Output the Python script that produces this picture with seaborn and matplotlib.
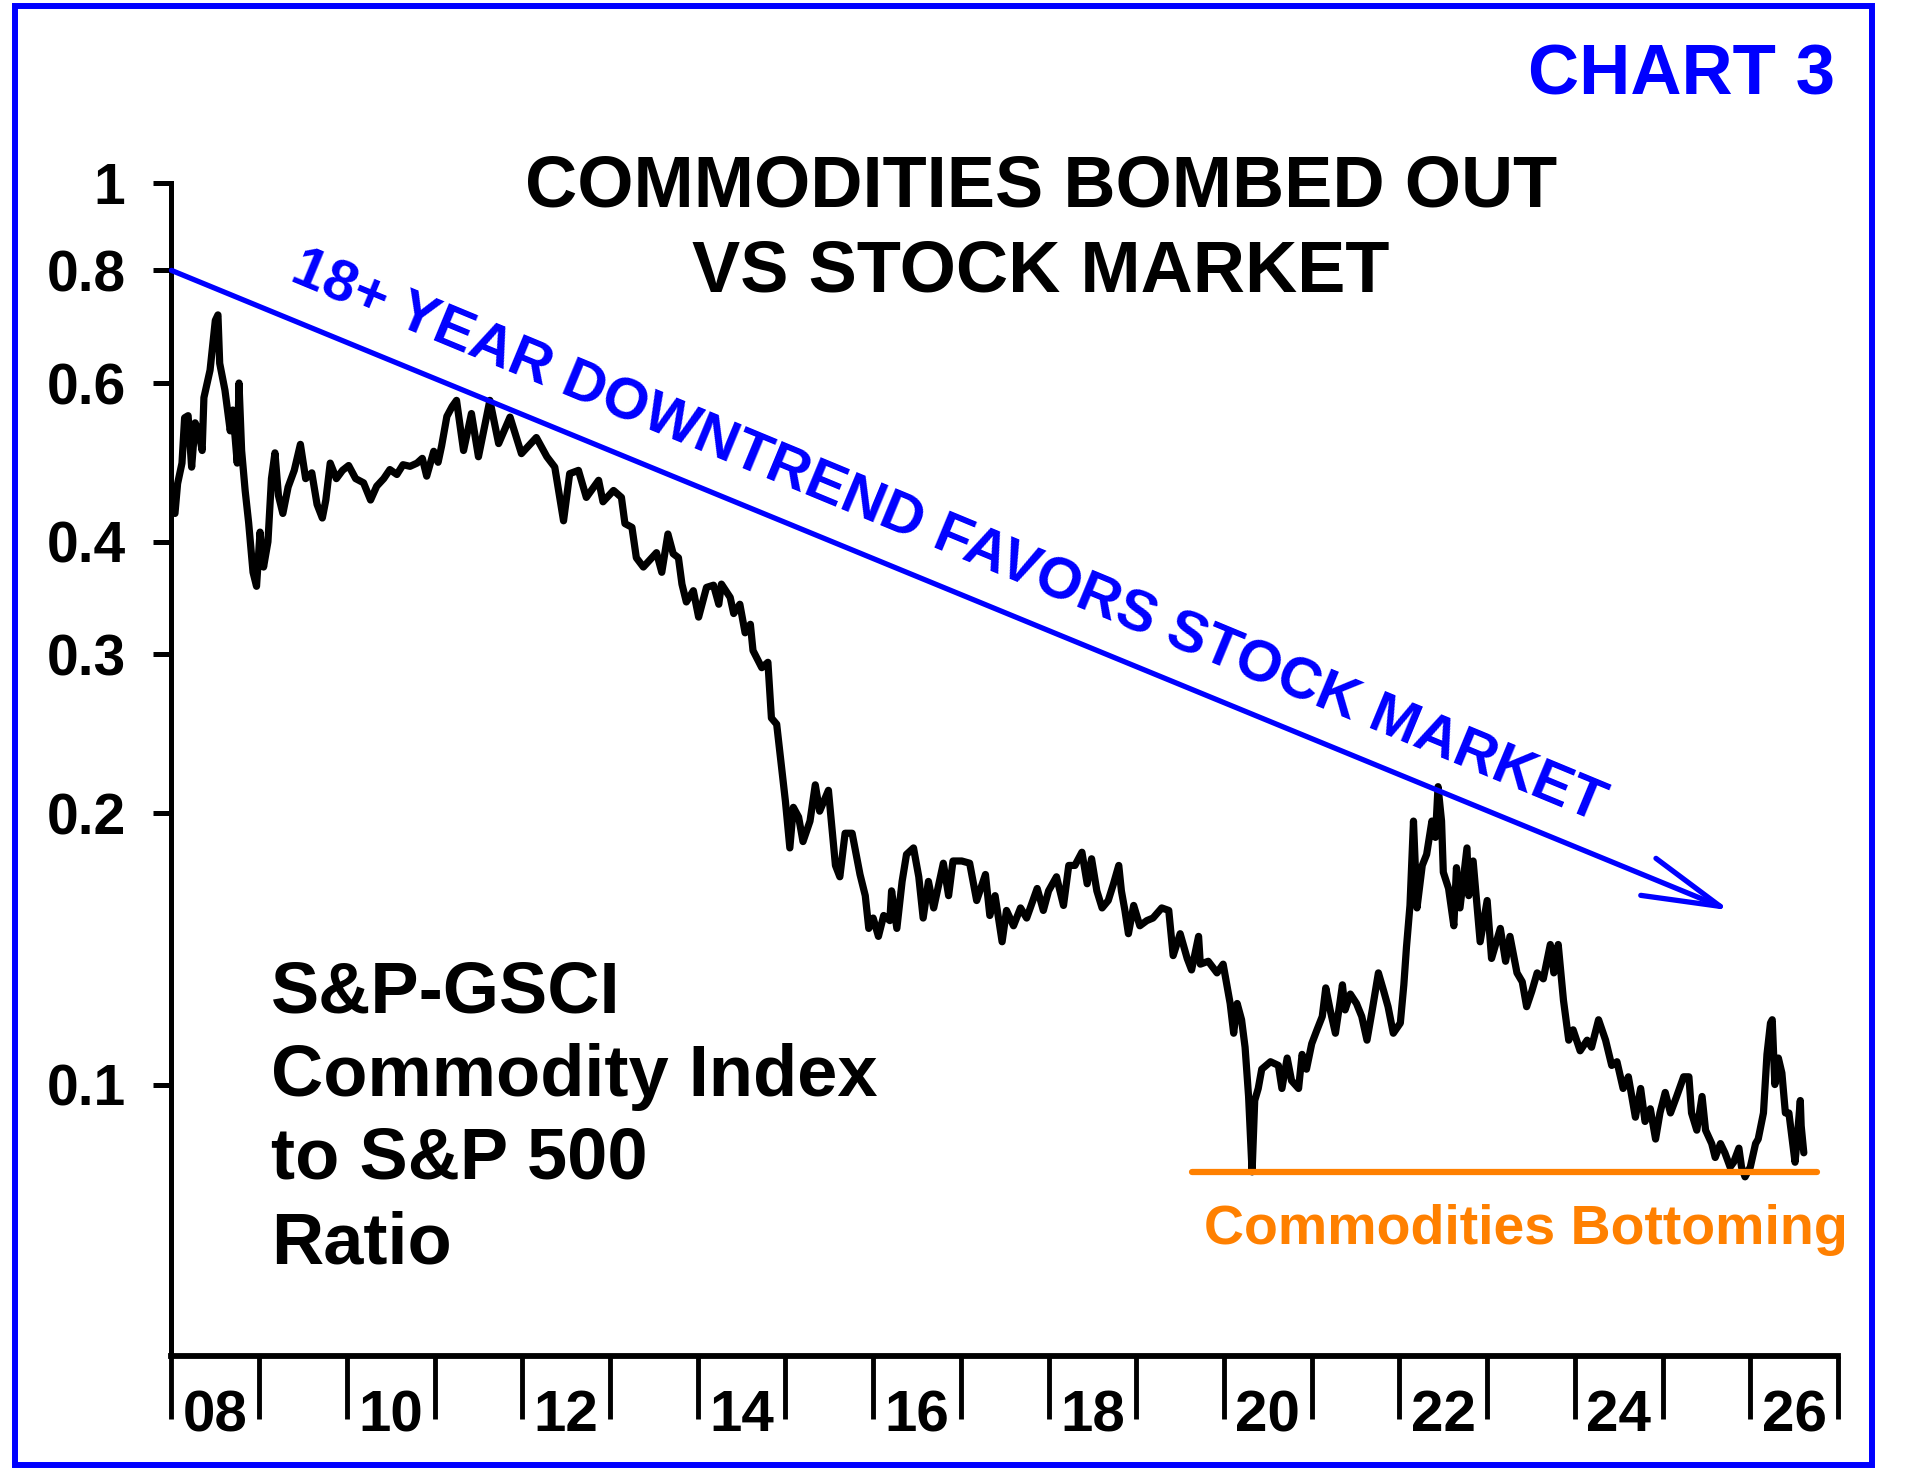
import matplotlib
matplotlib.use("Agg")
import pandas as pd
import matplotlib.pyplot as plt
import seaborn as sns
from matplotlib.patches import Rectangle
from matplotlib.ticker import FixedLocator, NullLocator

# S&P-GSCI / S&P 500 ratio (decimal years)
years = [
    2008.04, 2008.07, 2008.12, 2008.15, 2008.19, 2008.23, 2008.27, 2008.31, 2008.35, 2008.37,
    2008.44, 2008.50, 2008.53, 2008.55, 2008.61, 2008.67, 2008.70, 2008.75, 2008.77, 2008.80,
    2008.84, 2008.88, 2008.93, 2008.97, 2009.01, 2009.05, 2009.10, 2009.14, 2009.18, 2009.22,
    2009.27, 2009.33, 2009.40, 2009.47, 2009.53, 2009.60, 2009.66, 2009.72, 2009.76, 2009.81,
    2009.88, 2009.95, 2010.02, 2010.10, 2010.19, 2010.27, 2010.34, 2010.42, 2010.49, 2010.57,
    2010.64, 2010.72, 2010.80, 2010.86, 2010.91, 2010.99, 2011.04, 2011.08, 2011.14, 2011.20,
    2011.25, 2011.33, 2011.42, 2011.50, 2011.63, 2011.73, 2011.86, 2011.99, 2012.16, 2012.28,
    2012.37, 2012.47, 2012.54, 2012.64, 2012.73, 2012.87, 2012.92, 2013.04, 2013.13, 2013.17,
    2013.25, 2013.30, 2013.38, 2013.53, 2013.59, 2013.66, 2013.72, 2013.78, 2013.82, 2013.87,
    2013.95, 2014.01, 2014.10, 2014.18, 2014.24, 2014.27, 2014.37, 2014.41, 2014.48, 2014.54,
    2014.60, 2014.63, 2014.73, 2014.80, 2014.84, 2014.90, 2014.96, 2015.00, 2015.05, 2015.09,
    2015.15, 2015.20, 2015.28, 2015.34, 2015.39, 2015.49, 2015.57, 2015.62, 2015.68, 2015.76,
    2015.85, 2015.91, 2015.95, 2016.00, 2016.06, 2016.12, 2016.19, 2016.21, 2016.27, 2016.33,
    2016.38, 2016.46, 2016.52, 2016.57, 2016.63, 2016.69, 2016.80, 2016.86, 2016.91, 2017.01,
    2017.10, 2017.18, 2017.28, 2017.33, 2017.39, 2017.47, 2017.52, 2017.60, 2017.68, 2017.75,
    2017.87, 2017.94, 2018.00, 2018.09, 2018.17, 2018.23, 2018.30, 2018.38, 2018.44, 2018.49,
    2018.55, 2018.61, 2018.68, 2018.74, 2018.80, 2018.83, 2018.87, 2018.91, 2018.97, 2019.04,
    2019.12, 2019.19, 2019.29, 2019.37, 2019.42, 2019.50, 2019.58, 2019.63, 2019.71, 2019.73,
    2019.82, 2019.92, 2019.99, 2020.07, 2020.11, 2020.15, 2020.20, 2020.24, 2020.28, 2020.32,
    2020.35, 2020.39, 2020.43, 2020.53, 2020.62, 2020.66, 2020.72, 2020.77, 2020.85, 2020.89,
    2020.94, 2021.00, 2021.06, 2021.12, 2021.16, 2021.21, 2021.27, 2021.32, 2021.35, 2021.38,
    2021.44, 2021.51, 2021.57, 2021.63, 2021.69, 2021.76, 2021.82, 2021.87, 2021.93, 2022.01,
    2022.05, 2022.08, 2022.12, 2022.16, 2022.20, 2022.26, 2022.31, 2022.37, 2022.41, 2022.44,
    2022.48, 2022.50, 2022.56, 2022.62, 2022.65, 2022.69, 2022.77, 2022.79, 2022.84, 2022.92,
    2023.00, 2023.05, 2023.15, 2023.21, 2023.26, 2023.34, 2023.40, 2023.45, 2023.51, 2023.57,
    2023.64, 2023.72, 2023.76, 2023.81, 2023.87, 2023.93, 2023.98, 2024.06, 2024.14, 2024.19,
    2024.27, 2024.35, 2024.42, 2024.48, 2024.55, 2024.61, 2024.69, 2024.75, 2024.80, 2024.86,
    2024.92, 2024.97, 2025.03, 2025.09, 2025.16, 2025.24, 2025.30, 2025.33, 2025.39, 2025.45,
    2025.49, 2025.56, 2025.60, 2025.66, 2025.71, 2025.77, 2025.81, 2025.87, 2025.90, 2025.94,
    2026.00, 2026.06, 2026.09, 2026.15, 2026.19, 2026.23, 2026.25, 2026.28, 2026.32, 2026.36,
    2026.40, 2026.44, 2026.51, 2026.53, 2026.57, 2026.58, 2026.61,
]
ratio = [
    0.430, 0.464, 0.489, 0.549, 0.552, 0.484, 0.542, 0.531, 0.505, 0.578,
    0.620, 0.704, 0.714, 0.631, 0.589, 0.531, 0.560, 0.489, 0.600, 0.505,
    0.456, 0.420, 0.370, 0.357, 0.410, 0.375, 0.400, 0.470, 0.502, 0.450,
    0.430, 0.460, 0.480, 0.513, 0.470, 0.477, 0.440, 0.425, 0.445, 0.489,
    0.470, 0.480, 0.486, 0.470, 0.465, 0.445, 0.461, 0.470, 0.481, 0.475,
    0.487, 0.485, 0.489, 0.495, 0.473, 0.504, 0.490, 0.511, 0.551, 0.565,
    0.574, 0.505, 0.555, 0.497, 0.574, 0.514, 0.550, 0.501, 0.522, 0.497,
    0.484, 0.422, 0.476, 0.480, 0.448, 0.468, 0.443, 0.456, 0.448, 0.419,
    0.415, 0.384, 0.375, 0.389, 0.370, 0.408, 0.388, 0.384, 0.359, 0.343,
    0.353, 0.330, 0.356, 0.358, 0.341, 0.359, 0.347, 0.333, 0.341, 0.317,
    0.324, 0.303, 0.290, 0.294, 0.255, 0.251, 0.223, 0.206, 0.183, 0.203,
    0.198, 0.186, 0.196, 0.215, 0.201, 0.212, 0.175, 0.170, 0.190, 0.190,
    0.171, 0.162, 0.149, 0.153, 0.146, 0.154, 0.152, 0.164, 0.149, 0.168,
    0.180, 0.183, 0.170, 0.153, 0.168, 0.157, 0.176, 0.162, 0.177, 0.177,
    0.176, 0.160, 0.171, 0.154, 0.162, 0.144, 0.156, 0.150, 0.157, 0.153,
    0.165, 0.156, 0.164, 0.170, 0.158, 0.175, 0.175, 0.181, 0.167, 0.178,
    0.164, 0.157, 0.160, 0.167, 0.175, 0.164, 0.156, 0.147, 0.158, 0.150,
    0.152, 0.153, 0.157, 0.156, 0.139, 0.147, 0.138, 0.134, 0.146, 0.136,
    0.137, 0.133, 0.136, 0.123, 0.114, 0.123, 0.118, 0.110, 0.097, 0.080,
    0.096, 0.099, 0.104, 0.106, 0.105, 0.099, 0.107, 0.101, 0.099, 0.108,
    0.104, 0.111, 0.115, 0.119, 0.128, 0.121, 0.114, 0.123, 0.129, 0.121,
    0.126, 0.123, 0.119, 0.112, 0.121, 0.133, 0.127, 0.122, 0.114, 0.117,
    0.129, 0.142, 0.158, 0.196, 0.157, 0.175, 0.180, 0.196, 0.188, 0.214,
    0.196, 0.172, 0.165, 0.150, 0.174, 0.157, 0.183, 0.162, 0.177, 0.144,
    0.160, 0.138, 0.149, 0.137, 0.146, 0.133, 0.130, 0.122, 0.127, 0.133,
    0.131, 0.143, 0.133, 0.143, 0.124, 0.112, 0.115, 0.109, 0.112, 0.110,
    0.118, 0.112, 0.105, 0.106, 0.099, 0.102, 0.092, 0.099, 0.091, 0.094,
    0.087, 0.093, 0.098, 0.093, 0.097, 0.102, 0.102, 0.093, 0.089, 0.097,
    0.089, 0.086, 0.083, 0.086, 0.084, 0.081, 0.082, 0.085, 0.081, 0.079,
    0.081, 0.086, 0.087, 0.093, 0.108, 0.117, 0.118, 0.100, 0.107, 0.103,
    0.093, 0.093, 0.082, 0.086, 0.096, 0.090, 0.084,
]

trend_years = [2008.0, 2025.77]
trend_values = [0.8, 0.156]
bottom_years = [2019.64, 2026.76]
bottom_level = 0.08

y_ticks = [0.1, 0.2, 0.3, 0.4, 0.6, 0.8, 1.0]
y_tick_labels = ["0.1", "0.2", "0.3", "0.4", "0.6", "0.8", "1"]
year_ticks = list(range(2008, 2028))
label_years = [2008.5, 2010.5, 2012.5, 2014.5, 2016.5, 2018.5, 2020.5, 2022.5, 2024.5, 2026.5]
x_labels = ["08", "10", "12", "14", "16", "18", "20", "22", "24", "26"]

BLUE = "#0000ff"
ORANGE = "#ff8000"

sns.set_style("white")
plt.rcParams["font.family"] = ["Liberation Sans", "DejaVu Sans"]
plt.rcParams["font.weight"] = "bold"
plt.rcParams["text.color"] = "black"
plt.rcParams["xtick.color"] = "black"
plt.rcParams["ytick.color"] = "black"

fig = plt.figure(figsize=(19.2, 14.7), dpi=100)
ax = fig.add_axes([0.0893, 0.0776, 0.868, 0.7979])

df = pd.DataFrame({"year": years, "ratio": ratio})
sns.lineplot(data=df, x="year", y="ratio", ax=ax, color="black", linewidth=5.2,
             estimator=None, sort=False)

ax.set_yscale("log")
ax.set_ylim(0.05, 1)
ax.set_xlim(2008, 2027)
ax.set_xlabel("")
ax.set_ylabel("")

ax.yaxis.set_major_locator(FixedLocator(y_ticks))
ax.yaxis.set_minor_locator(NullLocator())
ax.set_yticklabels(y_tick_labels)
ax.set_xticks(year_ticks)
ax.set_xticklabels([""] * len(year_ticks))
ax.set_xticks(label_years, minor=True)
ax.set_xticklabels(x_labels, minor=True)

ax.tick_params(axis="y", which="major", left=True, length=13, width=3.6,
               direction="out", pad=20, labelsize=41, colors="black")
ax.tick_params(axis="x", which="major", bottom=True, length=45, width=3.5,
               direction="out", colors="black")
ax.tick_params(axis="x", which="minor", bottom=True, length=0, pad=24,
               labelsize=42, colors="black")

for side in ["top", "right"]:
    ax.spines[side].set_visible(False)
ax.spines["left"].set_linewidth(3.6)
ax.spines["bottom"].set_linewidth(4.2)
ax.spines["left"].set_color("black")
ax.spines["bottom"].set_color("black")

# downtrend line with open arrow head
ax.annotate("", xy=(trend_years[1], trend_values[1]),
            xytext=(trend_years[0], trend_values[0]),
            arrowprops=dict(arrowstyle="->,head_length=2.8,head_width=0.72",
                            color=BLUE, lw=3.8, shrinkA=0, shrinkB=0,
                            mutation_scale=20))
ax.text(2016.85, 0.404, "18+ YEAR DOWNTREND FAVORS STOCK MARKET",
        rotation=-22.5, rotation_mode="anchor", ha="center", va="center",
        color=BLUE, fontsize=42, fontweight="bold")

# bottoming support line
ax.plot(bottom_years, [bottom_level, bottom_level], color=ORANGE, lw=4.5,
        solid_capstyle="round", clip_on=False)
fig.text(0.7948, 0.1537, "Commodities Bottoming", ha="center", va="baseline",
         color=ORANGE, fontsize=40, fontweight="bold")

fig.text(0.956, 0.936, "CHART 3", ha="right", va="baseline", color=BLUE,
         fontsize=51, fontweight="bold")
fig.text(0.5422, 0.8592, "COMMODITIES BOMBED OUT", ha="center", va="baseline",
         color="black", fontsize=52, fontweight="bold")
fig.text(0.5422, 0.8014, "VS STOCK MARKET", ha="center", va="baseline",
         color="black", fontsize=52, fontweight="bold")

for line_text, base in zip(["S&P-GSCI", "Commodity Index", "to S&P 500", "Ratio"],
                           [0.3109, 0.2544, 0.1980, 0.1408]):
    fig.text(0.1411, base, line_text, ha="left", va="baseline",
             color="black", fontsize=52, fontweight="bold")

# blue frame around the whole chart
fig.patches.append(Rectangle((0.0078, 0.0034), 0.967, 0.9925,
                             transform=fig.transFigure, fill=False,
                             edgecolor=BLUE, lw=4.3))

fig.savefig("out.png", dpi=100)
